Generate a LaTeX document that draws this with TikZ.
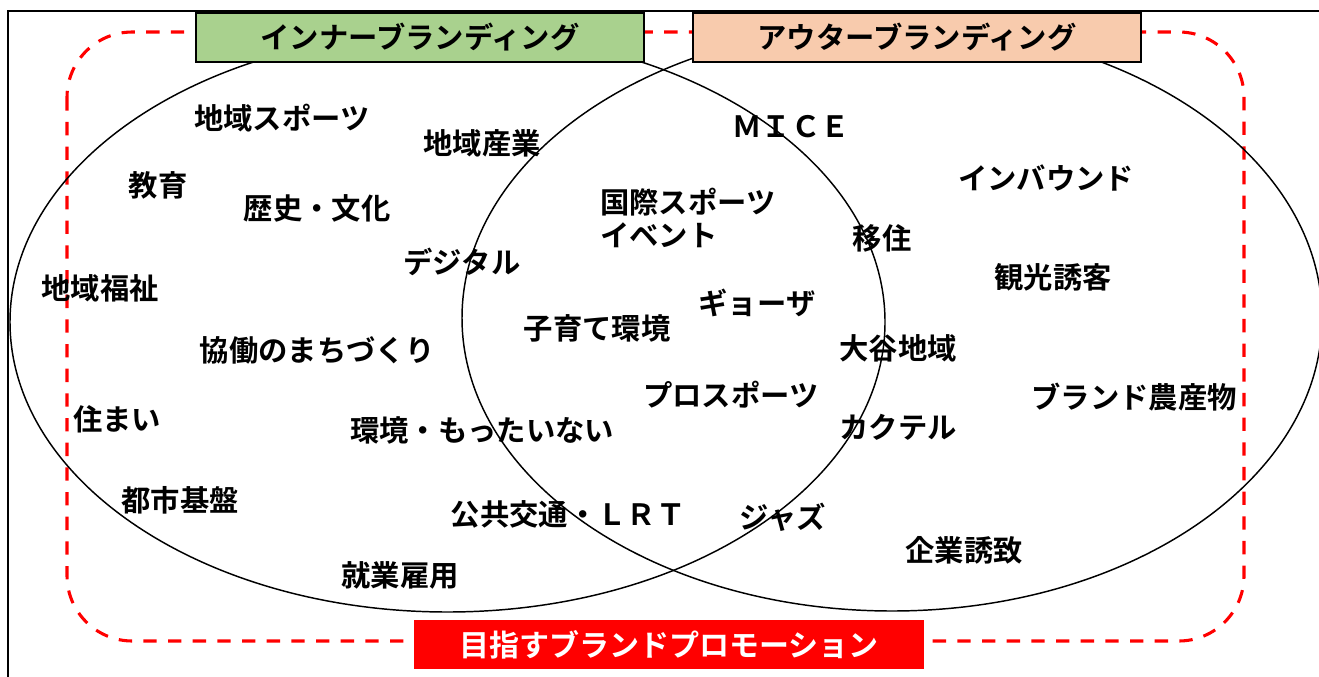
\documentclass[tikz,border=0pt]{standalone}
\usepackage{fontspec}
\newfontfamily\jpfont{Noto Sans CJK JP}[BoldFont={Noto Sans CJK JP Bold}]
\usepackage{xcolor}
\usepackage{tikz}
\usetikzlibrary{positioning}

\definecolor{innergreen}{HTML}{A9D18E}
\definecolor{outerpeach}{HTML}{F8CBAD}
\definecolor{promored}{HTML}{FF0000}

\begin{document}
\begin{tikzpicture}[
  x=0.75pt, y=-0.75pt,
  header/.style={draw=black, line width=1.1pt, minimum width=336pt, minimum height=36.5pt, inner sep=0pt, font=\jpfont\bfseries\fontsize{22}{24}\selectfont},
  item/.style={inner sep=0pt, font=\jpfont\bfseries\fontsize{22}{25}\selectfont, align=left},
  circ/.style={draw=black, line width=1.1pt},
  goal/.style={red, line width=2.3pt, dash pattern=on 10pt off 8.5pt, rounded corners=49pt}
]
\useasboundingbox (0,0) rectangle (1319,677);

% frame
\draw[line width=1.5pt] (8,677) -- (8,11) -- (1319,11);

% promotion area
\draw[goal] (67,32) rectangle (1244,641);

% two brandings
\draw[circ] (447.5,322) ellipse [x radius=437.5, y radius=290];
\draw[circ] (892,318) ellipse [x radius=430, y radius=293];

\node[header, fill=innergreen] (inner) at (420,37.5) {インナーブランディング};
\node[header, fill=outerpeach] (outer) at (917,37.5) {アウターブランディング};
\node[header, draw=none, fill=promored, minimum width=382.5pt, text=white, font=\jpfont\bfseries\fontsize{22.5}{24}\selectfont] (promo) at (669,644.5) {目指すブランドプロモーション};

% inner items
\node[item] (sports) at (282,118) {地域スポーツ};
\node[item] (industry) at (482,143) {地域産業};
\node[item] (edu) at (158,185) {教育};
\node[item] (history) at (317,208) {歴史・文化};
\node[item] (digital) at (462,262) {デジタル};
\node[item] (welfare) at (100,288) {地域福祉};
\node[item] (town) at (317,350) {協働のまちづくり};
\node[item] (house) at (117,419) {住まい};
\node[item] (eco) at (482,430) {環境・もったいない};
\node[item] (infra) at (180,500) {都市基盤};
\node[item] (lrt) at (568,514) {公共交通・ＬＲＴ};
\node[item] (jobs) at (400,575) {就業雇用};

% shared items
\node[item] (event) at (688,218) {国際スポーツ\\イベント};
\node[item] (gyoza) at (757,303) {ギョーザ};
\node[item] (child) at (597,328) {子育て環境};
\node[item] (pro) at (731,395) {プロスポーツ};

% outer items
\node[item] (mice) at (791,127) {ＭＩＣＥ};
\node[item] (move) at (882,238) {移住};
\node[item] (inbound) at (1046,178) {インバウンド};
\node[item] (tour) at (1053,277) {観光誘客};
\node[item] (oya) at (898,348) {大谷地域};
\node[item] (farm) at (1134,397) {ブランド農産物};
\node[item] (cocktail) at (898,427) {カクテル};
\node[item] (jazz) at (783,517) {ジャズ};
\node[item] (firms) at (964,550) {企業誘致};
\end{tikzpicture}
\end{document}
